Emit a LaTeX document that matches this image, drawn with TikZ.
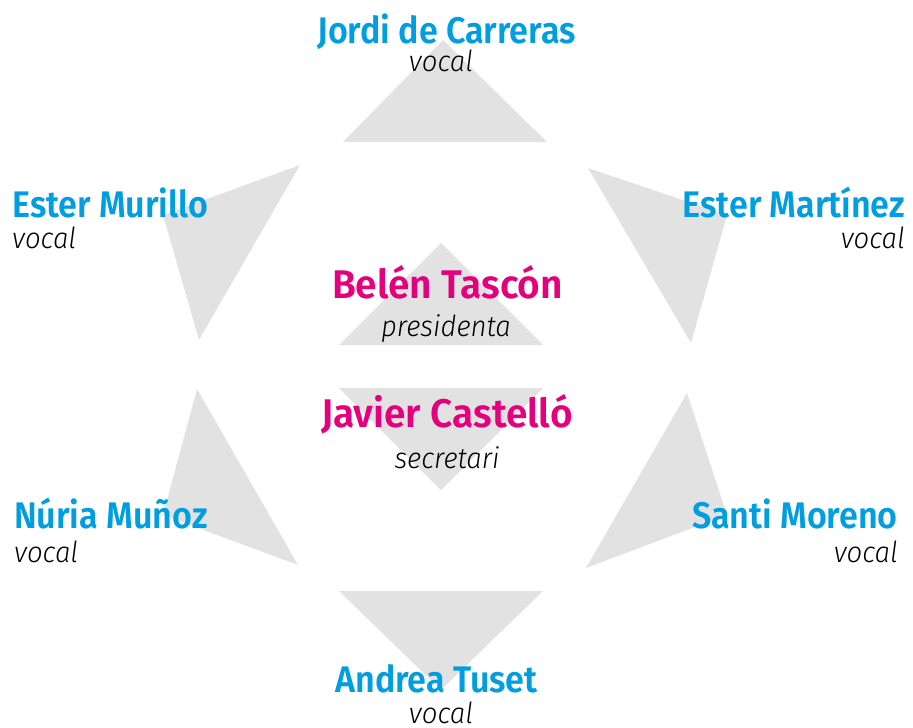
\documentclass[tikz,border=0pt]{standalone}
\usepackage{fontspec}
\setmainfont{Fira Sans}
\newfontfamily\namefont[FakeStretch=0.92]{Fira Sans SemiBold}
\newfontfamily\pinkfont[FakeStretch=0.97]{Fira Sans SemiBold}
\newfontfamily\rolefont[FakeStretch=0.95]{Fira Sans Light Italic}
\definecolor{tri}{RGB}{226,226,226}
\definecolor{vblue}{RGB}{0,158,224}
\definecolor{vpink}{RGB}{228,0,125}
\tikzset{
  tribox/.style={fill=tri, draw=none},
  vname/.style={text=vblue, font=\namefont\fontsize{37}{37}\selectfont, inner sep=0pt},
  pname/.style={text=vpink, font=\pinkfont\fontsize{40}{40}\selectfont, inner sep=0pt},
  role/.style={text=black, font=\rolefont\fontsize{29}{29}\selectfont, inner sep=0pt}
}
\begin{document}
\begin{tikzpicture}[x=1pt,y=-1pt]
\useasboundingbox (0,0) rectangle (913,728);
% triangles
\fill[tribox] (443,40) -- (343,142) -- (547,142) -- cycle;
\fill[tribox] (300,165) -- (163,215) -- (199,340) -- cycle;
\fill[tribox] (588,168) -- (727,215) -- (691,343) -- cycle;
\fill[tribox] (197,389) -- (163,515) -- (298,565) -- cycle;
\fill[tribox] (687,393) -- (727,515) -- (586,568) -- cycle;
\fill[tribox] (339,591) -- (543,591) -- (441,690) -- cycle;
\fill[tribox] (441,243) -- (339,345) -- (543,345) -- cycle;
\fill[tribox] (339,388) -- (543,388) -- (441,490) -- cycle;
% names
\node[vname, anchor=base] (jordi) at (446.5,43) {Jordi de Carreras};
\node[role, anchor=base] (jordir) at (441,71) {vocal};
\node[vname, anchor=base west] (murillo) at (12,217) {Ester Murillo};
\node[role, anchor=base west] (murillor) at (12,248) {vocal};
\node[vname, anchor=base east] (martinez) at (905,217) {Ester Martínez};
\node[role, anchor=base east] (martinezr) at (905,248) {vocal};
\node[pname, anchor=base] (belen) at (447.5,298) {Belén Tascón};
\node[role, anchor=base] (belenr) at (446,336) {presidenta};
\node[pname, anchor=base] (javier) at (447,427) {Javier Castelló};
\node[role, anchor=base] (javierr) at (447,468) {secretari};
\node[vname, anchor=base west] (nuria) at (14,528) {Núria Muñoz};
\node[role, anchor=base west] (nuriar) at (14,562) {vocal};
\node[vname, anchor=base east] (santi) at (898,528) {Santi Moreno};
\node[role, anchor=base east] (santir) at (898,562) {vocal};
\node[vname, anchor=base] (andrea) at (436.5,692) {Andrea Tuset};
\node[role, anchor=base] (andrear) at (441,723) {vocal};
\end{tikzpicture}
\end{document}
